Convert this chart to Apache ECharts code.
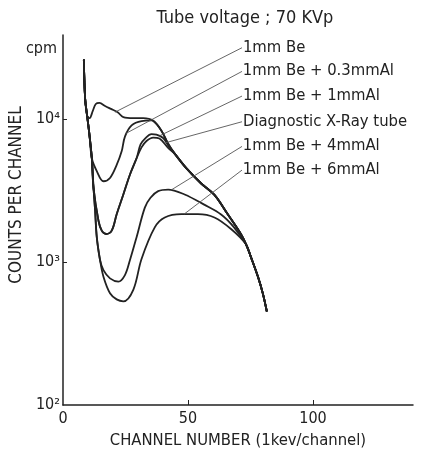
<!DOCTYPE html>
<html>
<head>
<meta charset="utf-8">
<script src="https://cdn.jsdelivr.net/npm/echarts@6/dist/echarts.min.js"></script>
<style>
html, body { margin: 0; padding: 0; background: #fff; }
#chart { width: 429px; height: 454px; }
</style>
</head>
<body>
<div id="chart"></div>
<script>
var FONT = '"DejaVu Sans Condensed", "Liberation Sans Narrow", "DejaVu Sans", sans-serif';
var INK = '#222';

// spectra, [channel, counts per channel]
var be1 = [[8.35, 25930], [8.87, 13740], [9.67, 10490], [10.62, 10110], [11.93, 11350], [13.13, 12690], [14.6, 12900],
    [16.83, 12290], [19.21, 11720], [21.88, 11120], [24.14, 10270], [28.12, 10110], [32.1, 10110], [36.08, 9690],
    [39.38, 8260], [42.06, 6690], [44.67, 5710], [49.32, 4520], [55.29, 3530], [60.58, 2940], [65.91, 2150],
    [71.2, 1560], [73.19, 1330], [75.18, 1080], [77.96, 790], [79.95, 600], [81.54, 450]];
var al03 = [[8.35, 25930], [8.87, 13740], [9.67, 10490], [10.62, 7636], [11.54, 5298], [13.52, 4310], [16.19, 3660],
    [18.81, 3860], [21.48, 4760], [23.47, 5920], [24.78, 7510], [27.45, 8990], [31.42, 9640], [35.4, 9735],
    [36.08, 9690], [39.38, 8260], [42.06, 6690], [44.67, 5710], [49.32, 4520], [55.29, 3530], [60.58, 2940],
    [65.91, 2150], [71.2, 1560], [73.19, 1330], [75.18, 1080], [77.96, 790], [79.95, 600], [81.54, 450]];
var al1 = [[8.35, 25930], [8.87, 13740], [9.67, 10490], [10.62, 7636], [11.54, 5298], [12.21, 3289], [14.2, 1940],
    [15.51, 1654], [17.22, 1567], [19.49, 1654], [21.48, 2154], [24.14, 2958], [26.77, 4064], [29.44, 5298],
    [31.03, 6617], [33.01, 7337], [35.4, 7817], [37.39, 7756], [40.06, 7337], [42.06, 6512], [44.67, 5710],
    [49.32, 4520], [55.29, 3530], [60.58, 2940], [65.91, 2150], [71.2, 1560], [73.19, 1330], [75.18, 1080],
    [77.96, 790], [79.95, 600], [81.54, 450]];
var diag = [[8.35, 25930], [8.87, 13740], [9.67, 10490], [10.62, 7636], [11.54, 5298], [12.21, 3289], [14.2, 1940],
    [15.51, 1654], [17.22, 1567], [19.49, 1654], [21.48, 2154], [24.14, 2958], [26.77, 4064], [29.44, 5298],
    [31.42, 6310], [33.41, 6995], [36.08, 7396], [38.58, 7278], [42.06, 6260], [44.67, 5710],
    [49.32, 4520], [55.29, 3530], [60.58, 2940], [65.91, 2150], [71.2, 1560], [73.19, 1330], [75.18, 1080],
    [77.96, 790], [79.95, 600], [81.54, 450]];
var al4 = [[8.35, 25930], [8.87, 13740], [9.67, 10490], [10.62, 7636], [11.54, 5298], [12.21, 3289], [12.85, 2284],
    [13.52, 1488], [14.84, 1027], [16.19, 876], [18.81, 767], [22.16, 728], [24.78, 809], [26.77, 1027],
    [29.44, 1488], [32.74, 2394], [35.0, 2807], [38.07, 3122], [42.06, 3202], [48.65, 2958], [56.48, 2512],
    [63.25, 2143], [68.42, 1743], [73.19, 1330], [75.18, 1080], [77.96, 790], [79.95, 600], [81.54, 450]];
var al6 = [[8.35, 25930], [8.87, 13740], [9.67, 10490], [10.62, 7636], [11.54, 5298], [12.21, 3289], [12.85, 2284],
    [13.52, 1488], [14.84, 1027], [16.19, 788], [18.81, 604], [21.48, 547], [24.14, 530], [28.12, 638],
    [31.42, 1049], [36.71, 1743], [40.71, 2043], [47.33, 2154], [53.98, 2154], [60.58, 2043], [67.22, 1697],
    [73.19, 1330], [75.18, 1080], [77.96, 790], [79.95, 600], [81.54, 450]];

var names = ['1mm Be', '1mm Be + 0.3mmAl', '1mm Be + 1mmAl', 'Diagnostic X-Ray tube', '1mm Be + 4mmAl', '1mm Be + 6mmAl'];
var curves = [be1, al03, al1, diag, al4, al6];

// leader lines: point on the curve -> label anchor
var leaderTo = [[20.8, 11120], [25.06, 7880], [38.6, 7600], [41.0, 6800], [43.36, 3186], [48.5, 2160]];
var leaderFrom = [[71.6, 31370], [71.6, 21430], [71.6, 14410], [71.6, 9535], [71.6, 6410], [71.6, 4379]];

var xTicks = [0, 50, 100];
var yTicks = [100, 1000, 10000];
var supers = { 2: '²', 3: '³', 4: '⁴' };

var chart = echarts.init(document.getElementById('chart'));

var series = curves.map(function (c, i) {
    return {
        name: names[i],
        type: 'line',
        data: c,
        smooth: 0.35,
        showSymbol: false,
        lineStyle: { color: INK, width: 1.8 },
        markLine: {
            silent: true,
            symbol: ['none', 'none'],
            lineStyle: { color: '#555', width: 0.9, type: 'solid' },
            label: {
                show: true,
                position: 'end',
                distance: 1,
                align: 'left',
                verticalAlign: 'middle',
                formatter: names[i],
                color: INK,
                fontFamily: FONT,
                fontSize: 16.5
            },
            data: [[{ coord: leaderTo[i] }, { coord: leaderFrom[i] }]]
        }
    };
});

var option = {
    animation: false,
    backgroundColor: '#fff',
    title: {
        text: 'Tube voltage ; 70 KVp',
        left: 240,
        top: 4,
        textAlign: 'center',
        textStyle: { color: INK, fontFamily: FONT, fontSize: 18, fontWeight: 'normal' }
    },
    grid: { left: 61, right: 16, top: 35, bottom: 44 },
    xAxis: {
        type: 'value',
        min: 0,
        max: 140,
        interval: 50,
        name: 'CHANNEL NUMBER (1kev/channel)',
        nameLocation: 'middle',
        nameGap: 27,
        nameTextStyle: { color: INK, fontFamily: FONT, fontSize: 16.5 },
        axisLine: { lineStyle: { color: INK, width: 1.5 } },
        axisTick: { inside: true, length: 5, customValues: [50, 100], lineStyle: { color: INK } },
        axisLabel: { customValues: xTicks, color: INK, fontFamily: FONT, fontSize: 16, margin: 6 },
        splitLine: { show: false }
    },
    yAxis: {
        type: 'log',
        logBase: 10,
        min: 100,
        max: 38500,
        name: 'COUNTS PER CHANNEL',
        nameLocation: 'middle',
        nameGap: 36,
        nameTextStyle: { color: INK, fontFamily: FONT, fontSize: 17, padding: [0, 0, 0, 50] },
        axisLine: { show: true, lineStyle: { color: INK, width: 1.5 } },
        axisTick: { show: true, inside: true, length: 4, customValues: [1000, 10000], lineStyle: { color: INK } },
        axisLabel: {
            customValues: yTicks,
            color: INK,
            fontFamily: FONT,
            fontSize: 16,
            margin: 3,
            formatter: function (v) {
                var p = Math.round(Math.log(v) / Math.LN10);
                return '10' + supers[p];
            }
        },
        splitLine: { show: false }
    },
    graphic: [{
        type: 'text',
        right: 429 - 57,
        top: 41,
        style: { text: 'cpm', fill: INK, font: '16px ' + FONT }
    }],
    series: series
};

chart.setOption(option);
</script>
</body>
</html>
